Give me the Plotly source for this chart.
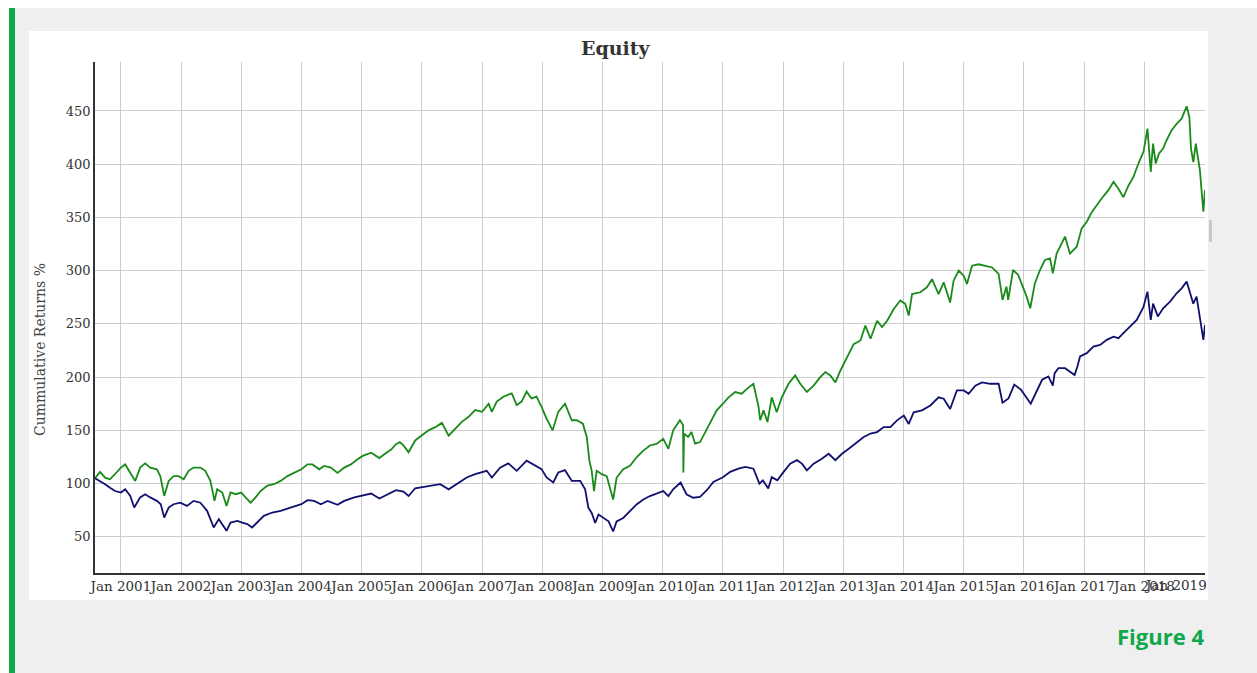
import plotly.graph_objects as go

# ---------------- data ----------------
green_dates = [
    "2000-07-28", "2000-08-28", "2000-09-27", "2000-10-27", "2000-11-27",
    "2001-01-01", "2001-01-27", "2001-02-27", "2001-03-29", "2001-04-28",
    "2001-05-28", "2001-06-28", "2001-08-07", "2001-08-28", "2001-09-21",
    "2001-10-18", "2001-11-17", "2001-12-17", "2002-01-17", "2002-02-16",
    "2002-03-18", "2002-04-28", "2002-05-28", "2002-06-28", "2002-07-23",
    "2002-08-08", "2002-09-08", "2002-10-04", "2002-10-28", "2002-11-28",
    "2003-01-01", "2003-01-27", "2003-02-27", "2003-03-29", "2003-04-28",
    "2003-06-08", "2003-07-18", "2003-08-28", "2003-10-08", "2003-11-17",
    "2004-01-01", "2004-02-07", "2004-03-08", "2004-04-18", "2004-05-18",
    "2004-06-28", "2004-08-07", "2004-09-17", "2004-10-27", "2004-12-07",
    "2005-01-07", "2005-02-27", "2005-04-18", "2005-05-18", "2005-06-28",
    "2005-07-28", "2005-08-20", "2005-09-11", "2005-10-12", "2005-11-21",
    "2006-01-01", "2006-02-10", "2006-03-23", "2006-05-02", "2006-06-12",
    "2006-07-22", "2006-08-31", "2006-10-11", "2006-11-20", "2007-01-01",
    "2007-02-10", "2007-03-01", "2007-03-31", "2007-05-10", "2007-06-30",
    "2007-07-30", "2007-08-29", "2007-09-28", "2007-10-28", "2007-11-27",
    "2007-12-28", "2008-01-27", "2008-03-04", "2008-04-07", "2008-05-18",
    "2008-06-28", "2008-07-28", "2008-09-03", "2008-09-27", "2008-10-13",
    "2008-10-27", "2008-11-10", "2008-11-26", "2008-12-27", "2009-01-26",
    "2009-03-06", "2009-03-27", "2009-05-06", "2009-06-16", "2009-07-26",
    "2009-09-05", "2009-10-15", "2009-11-24", "2010-01-04", "2010-02-04",
    "2010-03-05", "2010-04-15", "2010-05-04", "2010-05-06", "2010-05-10",
    "2010-06-04", "2010-06-24", "2010-07-16", "2010-08-15", "2010-09-15",
    "2010-10-15", "2010-11-24", "2011-01-01", "2011-02-04", "2011-03-16",
    "2011-04-25", "2011-05-26", "2011-07-05", "2011-08-05", "2011-08-15",
    "2011-09-04", "2011-09-28", "2011-10-24", "2011-11-23", "2011-12-24",
    "2012-02-03", "2012-03-14", "2012-04-14", "2012-05-24", "2012-07-04",
    "2012-08-13", "2012-09-13", "2012-10-13", "2012-11-13", "2012-12-13",
    "2013-01-22", "2013-03-04", "2013-04-14", "2013-05-14", "2013-06-14",
    "2013-07-24", "2013-08-23", "2013-09-23", "2013-11-02", "2013-12-12",
    "2014-01-11", "2014-02-01", "2014-02-21", "2014-04-12", "2014-05-22",
    "2014-06-22", "2014-08-01", "2014-09-01", "2014-10-10", "2014-10-31",
    "2014-12-01", "2015-01-01", "2015-01-20", "2015-02-20", "2015-04-01",
    "2015-05-11", "2015-06-21", "2015-07-31", "2015-08-24", "2015-09-17",
    "2015-09-27", "2015-10-27", "2015-11-27", "2015-12-17", "2016-01-17",
    "2016-02-08", "2016-03-07", "2016-04-07", "2016-05-07", "2016-06-07",
    "2016-06-24", "2016-07-17", "2016-08-16", "2016-09-06", "2016-10-06",
    "2016-11-16", "2016-12-16", "2017-01-16", "2017-02-15", "2017-03-17",
    "2017-04-16", "2017-05-27", "2017-06-27", "2017-07-27", "2017-08-26",
    "2017-09-26", "2017-10-26", "2017-11-25", "2017-12-26", "2018-01-19",
    "2018-02-08", "2018-02-22", "2018-03-10", "2018-03-30", "2018-04-24",
    "2018-05-15", "2018-06-15", "2018-07-15", "2018-08-14", "2018-09-14",
    "2018-09-30", "2018-10-10", "2018-10-24", "2018-11-08", "2018-11-23",
    "2018-12-03", "2018-12-24", "2019-01-03",
]
green_values = [
    105, 111, 105.6, 104, 109,
    115, 118, 110, 102.5, 115,
    119, 115, 113.4, 107, 88.4,
    102.5, 107, 107, 104, 112,
    115, 115, 112, 102.5, 83.75,
    94.7, 91.6, 79, 91.6, 90,
    91.6, 87, 82, 87, 93,
    98, 99.4, 102.5, 107, 110,
    113.4, 118, 118, 113.4, 116.6,
    115, 110, 115, 118, 122.8,
    126, 129, 124, 127.5, 132,
    137, 139, 135.8, 129.4, 140.5,
    145, 150, 153, 157, 145,
    151.6, 158, 162.7, 169, 167.4,
    175, 167.4, 177, 181.6, 184.8,
    173.7, 177, 186.4, 180, 181.6,
    172, 161, 150, 167.4, 175,
    159.5, 159.5, 156.3, 143.7, 121.5,
    112, 93, 112, 108.8, 107,
    85, 105.7, 113.6, 116.8, 124.7,
    131, 135.8, 137.3, 142, 132.6,
    150, 159.5, 155, 110.4, 146.8,
    143.7, 148.4, 137.5, 139, 148.4,
    156, 168.75, 175, 181, 186,
    184.4, 189, 193.75, 172, 159.4,
    168.75, 157.8, 181, 167, 181,
    193.75, 201.6, 193.75, 186, 192,
    200, 204.7, 201.6, 195, 206,
    218.75, 231, 234.4, 248.4, 236,
    253, 247, 253, 264, 272,
    268.75, 257.8, 278, 279.7, 284.4,
    292, 278, 289, 270, 290.6,
    300, 295, 287.5, 304.7, 306,
    304.7, 303, 297, 272.5, 285,
    272.5, 300.6, 296, 288, 275.6,
    264.7, 288, 300.6, 310, 311.6,
    297.5, 316, 325.6, 332, 316,
    322.5, 339.7, 346, 355, 361.6,
    367.8, 375.6, 383.4, 377, 369,
    380, 388, 400.6, 411.6, 433.4,
    392.8, 419.4, 400.6, 410, 414.7,
    422.5, 432, 438, 442.8, 454.4,
    444.4, 414.7, 402, 419.4, 402,
    394.4, 355.3, 375.6,
]

blue_dates = [
    "2000-07-28", "2000-08-28", "2000-09-27", "2000-10-27", "2000-11-27",
    "2001-01-01", "2001-01-27", "2001-02-27", "2001-03-23", "2001-04-28",
    "2001-05-28", "2001-06-28", "2001-08-07", "2001-08-31", "2001-09-21",
    "2001-10-18", "2001-11-17", "2001-12-27", "2002-02-06", "2002-03-18",
    "2002-04-28", "2002-06-08", "2002-07-18", "2002-08-18", "2002-09-08",
    "2002-10-04", "2002-10-28", "2002-12-08", "2003-01-07", "2003-02-07",
    "2003-03-08", "2003-04-07", "2003-05-18", "2003-07-08", "2003-08-28",
    "2003-10-27", "2004-01-01", "2004-02-07", "2004-03-18", "2004-04-28",
    "2004-06-08", "2004-08-07", "2004-09-17", "2004-11-17", "2005-01-07",
    "2005-02-27", "2005-04-18", "2005-06-08", "2005-07-28", "2005-09-11",
    "2005-10-12", "2005-11-21", "2006-01-01", "2006-02-20", "2006-04-22",
    "2006-06-12", "2006-08-01", "2006-09-30", "2006-11-20", "2007-01-29",
    "2007-03-01", "2007-04-20", "2007-06-09", "2007-07-30", "2007-09-28",
    "2007-11-07", "2007-12-28", "2008-01-27", "2008-03-08", "2008-04-07",
    "2008-05-18", "2008-06-28", "2008-08-18", "2008-09-17", "2008-10-07",
    "2008-10-27", "2008-11-17", "2008-12-07", "2009-01-06", "2009-02-06",
    "2009-03-06", "2009-03-27", "2009-05-06", "2009-06-16", "2009-07-26",
    "2009-09-05", "2009-10-15", "2009-11-24", "2010-01-04", "2010-02-04",
    "2010-03-05", "2010-04-19", "2010-05-25", "2010-07-04", "2010-08-15",
    "2010-09-25", "2010-11-04", "2011-01-01", "2011-02-14", "2011-04-05",
    "2011-05-16", "2011-07-05", "2011-08-10", "2011-08-31", "2011-10-03",
    "2011-10-24", "2011-11-27", "2012-01-04", "2012-02-13", "2012-03-25",
    "2012-04-24", "2012-05-24", "2012-07-04", "2012-08-23", "2012-10-03",
    "2012-11-13", "2012-12-23", "2013-02-02", "2013-03-24", "2013-05-04",
    "2013-06-14", "2013-07-24", "2013-09-02", "2013-10-12", "2013-11-22",
    "2014-01-02", "2014-02-01", "2014-03-03", "2014-04-22", "2014-06-12",
    "2014-08-01", "2014-09-01", "2014-10-10", "2014-11-20", "2015-01-01",
    "2015-01-30", "2015-03-12", "2015-04-21", "2015-06-11", "2015-07-31",
    "2015-08-24", "2015-09-29", "2015-11-03", "2015-12-15", "2016-02-11",
    "2016-04-20", "2016-05-28", "2016-06-24", "2016-07-05", "2016-07-28",
    "2016-09-06", "2016-10-16", "2016-11-03", "2016-11-20", "2016-12-06",
    "2017-01-16", "2017-02-25", "2017-04-07", "2017-05-17", "2017-06-27",
    "2017-07-27", "2017-08-26", "2017-10-05", "2017-11-15", "2017-12-26",
    "2018-01-19", "2018-02-08", "2018-02-22", "2018-03-23", "2018-04-24",
    "2018-06-05", "2018-07-15", "2018-08-14", "2018-09-14", "2018-10-05",
    "2018-10-24", "2018-11-13", "2018-11-28", "2018-12-24", "2019-01-03",
]
blue_values = [
    105, 102.5, 99.4, 96, 93,
    91.6, 94.7, 88.4, 77.5, 87,
    90, 87, 83.75, 80.6, 68,
    77.5, 80.6, 82, 79, 83.75,
    82, 74.4, 58.75, 66.6, 62,
    55.6, 63.4, 65, 63.4, 62,
    58.75, 63.4, 69.7, 72.8, 74.4,
    77.5, 80.6, 84.4, 83.75, 80.6,
    83.75, 80, 83.75, 87, 89,
    90.6, 86, 90, 93.75, 92.4,
    88.3, 95.6, 96.8, 97.8, 99.4,
    94.6, 99.4, 105.7, 108.8, 112,
    105.7, 115, 119, 112, 121.5,
    118.3, 113.6, 105.7, 101, 110.4,
    112.6, 102.5, 102.5, 94.6, 77.2,
    72.4, 63, 70.9, 67.7, 64.5,
    55, 64.5, 67.7, 74, 80.4,
    85, 88.3, 90.5, 93, 88.3,
    94.6, 101, 90, 86.7, 87.5,
    93.75, 101.6, 106, 111, 114,
    115.6, 114, 100, 103, 95.3,
    106, 103, 111, 118.75, 122,
    118.75, 112.5, 118.75, 123.4, 128,
    122, 128, 132.8, 139, 143.75,
    147, 148.4, 153, 153, 159.4,
    164, 156, 167, 168.75, 173.4,
    181, 179.7, 170, 187.5, 187.5,
    184.4, 192, 195, 193.75, 193.75,
    176, 180, 193, 188, 175,
    197.5, 200.6, 192, 203.75, 208.4,
    208.4, 203.75, 202, 210, 219.4,
    222.5, 228.75, 230.3, 235, 238,
    236.6, 241.25, 247.5, 253.75, 266,
    280.3, 253.75, 269, 257, 264.7,
    271, 278.75, 283.4, 289.7, 278.75,
    269, 275.6, 261.6, 235, 249,
]

x_tick_dates = [
    "2001-01-01", "2002-01-01", "2003-01-01", "2004-01-01", "2005-01-01",
    "2006-01-01", "2007-01-01", "2008-01-01", "2009-01-01", "2010-01-01",
    "2011-01-01", "2012-01-01", "2013-01-01", "2014-01-01", "2015-01-01",
    "2016-01-01", "2017-01-01", "2018-01-01",
]
x_tick_labels = [
    "Jan 2001", "Jan 2002", "Jan 2003", "Jan 2004", "Jan 2005",
    "Jan 2006", "Jan 2007", "Jan 2008", "Jan 2009", "Jan 2010",
    "Jan 2011", "Jan 2012", "Jan 2013", "Jan 2014", "Jan 2015",
    "Jan 2016", "Jan 2017", "Jan 2018",
]
last_tick_label = "Jan 2019"
y_tick_values = [50, 100, 150, 200, 250, 300, 350, 400, 450]
x_range = ["2000-07-28", "2019-01-03"]
y_range = [16, 496]

# ---------------- styling ----------------
SERIF = "DejaVu Serif"
GREEN_LINE = "#1a8a1a"
BLUE_LINE = "#10106e"
ACCENT = "#0fa84a"

fig = go.Figure()
fig.add_trace(go.Scatter(x=green_dates, y=green_values, mode="lines",
                         name="Strategy", line=dict(color=GREEN_LINE, width=1.8)))
fig.add_trace(go.Scatter(x=blue_dates, y=blue_values, mode="lines",
                         name="Benchmark", line=dict(color=BLUE_LINE, width=1.8)))

L, R, T, B = 95, 52, 62, 100
W, H = 1257, 673
pw, ph = W - L - R, H - T - B


def px_x(p):
    return (p - L) / pw


def px_y(p):
    return (H - B - p) / ph


shapes = [
    # grey page background
    dict(type="rect", xref="paper", yref="paper", layer="below",
         x0=px_x(15), x1=px_x(W + 10), y0=px_y(H + 10), y1=px_y(8),
         fillcolor="#efefef", line=dict(width=0)),
    # green accent bar
    dict(type="rect", xref="paper", yref="paper", layer="below",
         x0=px_x(9), x1=px_x(15), y0=px_y(H + 10), y1=px_y(8),
         fillcolor=ACCENT, line=dict(width=0)),
    # white chart panel
    dict(type="rect", xref="paper", yref="paper", layer="below",
         x0=px_x(29), x1=px_x(1208), y0=px_y(600), y1=px_y(31),
         fillcolor="white", line=dict(width=0)),
    # small scrollbar nub
    dict(type="rect", xref="paper", yref="paper", layer="below",
         x0=px_x(1209), x1=px_x(1212), y0=px_y(242), y1=px_y(220),
         fillcolor="#c9c9c9", line=dict(width=0)),
]

annotations = [
    dict(text="<b>Equity</b>", xref="paper", yref="paper",
         x=px_x(616), y=px_y(48), xanchor="center", yanchor="middle",
         showarrow=False, font=dict(family=SERIF, size=19, color="#333333")),
    dict(text="Cummulative Returns %", xref="paper", yref="paper",
         x=px_x(40), y=px_y(350), xanchor="center", yanchor="middle",
         textangle=-90, showarrow=False,
         font=dict(family=SERIF, size=14, color="#444444")),
    dict(text=last_tick_label, xref="paper", yref="paper",
         x=px_x(1209), y=px_y(585), xanchor="right", yanchor="middle",
         showarrow=False, font=dict(family=SERIF, size=13.5, color="#333333")),
    dict(text="<b>Figure 4</b>", xref="paper", yref="paper",
         x=px_x(1206), y=px_y(636), xanchor="right", yanchor="middle",
         showarrow=False, font=dict(family="Open Sans", size=22, color=ACCENT)),
]

fig.update_layout(
    width=W, height=H, autosize=False,
    margin=dict(l=L, r=R, t=T, b=B, pad=0),
    paper_bgcolor="white", plot_bgcolor="white",
    showlegend=False, shapes=shapes, annotations=annotations,
    hovermode="x",
)
fig.update_xaxes(
    type="date", range=x_range, tickvals=x_tick_dates, ticktext=x_tick_labels,
    tickangle=0, ticks="", showgrid=True, gridcolor="#cccccc", gridwidth=1,
    showline=True, linecolor="#333333", linewidth=1.5, zeroline=False,
    tickfont=dict(family=SERIF, size=13.5, color="#333333"),
)
fig.update_yaxes(
    range=y_range, tickvals=y_tick_values, ticks="", showgrid=True,
    gridcolor="#cccccc", gridwidth=1, showline=True, linecolor="#333333",
    linewidth=1.5, zeroline=False,
    tickfont=dict(family=SERIF, size=13, color="#333333"),
)

fig.write_html("out.html", config={"displayModeBar": False},
               post_script="document.body.style.margin='0';document.body.style.overflow='hidden';")
